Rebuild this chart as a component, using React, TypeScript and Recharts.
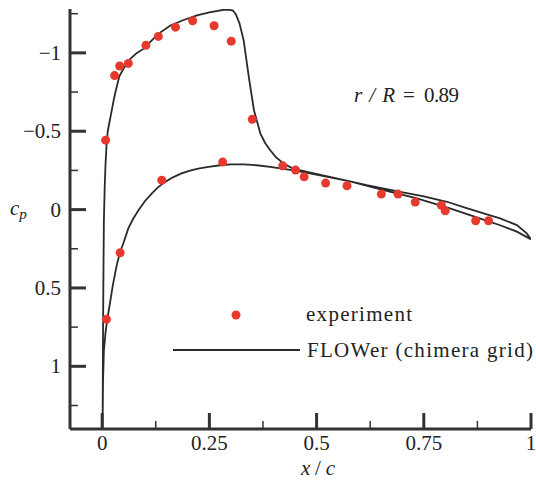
import React from 'react';
import { ComposedChart, Line, Scatter, XAxis, YAxis } from 'recharts';

// Experiment (x/c, cp)
const expX = [0.008, 0.029, 0.041, 0.061, 0.102, 0.131, 0.171, 0.211, 0.261, 0.301, 0.350, 0.421, 0.451, 0.471, 0.521, 0.571, 0.651, 0.690, 0.730, 0.791, 0.800, 0.871, 0.901, 0.139, 0.281, 0.042, 0.010];
const expCp = [-0.443, -0.855, -0.916, -0.933, -1.048, -1.105, -1.164, -1.205, -1.173, -1.075, -0.576, -0.279, -0.252, -0.209, -0.169, -0.152, -0.099, -0.099, -0.048, -0.027, 0.008, 0.071, 0.071, -0.188, -0.303, 0.275, 0.70];

// FLOWer: suction side from trailing edge to leading edge
const suctionX = [1.0, 0.990, 0.967, 0.928, 0.897, 0.850, 0.804, 0.750, 0.695, 0.617, 0.578, 0.520, 0.478, 0.445, 0.423, 0.405, 0.392, 0.380, 0.369, 0.354, 0.342, 0.330, 0.320, 0.312, 0.305, 0.295, 0.283, 0.250, 0.221, 0.190, 0.159, 0.130, 0.097, 0.081, 0.065, 0.050, 0.040, 0.031, 0.027, 0.020, 0.013, 0.010, 0.008, 0.006, 0.004, 0.003, 0.002, 0.001];
const suctionCp = [0.19, 0.152, 0.099, 0.056, 0.030, -0.010, -0.050, -0.085, -0.113, -0.156, -0.180, -0.215, -0.241, -0.262, -0.294, -0.335, -0.379, -0.425, -0.485, -0.634, -0.846, -1.080, -1.190, -1.245, -1.270, -1.276, -1.275, -1.258, -1.239, -1.210, -1.175, -1.120, -1.027, -1.000, -0.960, -0.900, -0.850, -0.750, -0.700, -0.600, -0.500, -0.400, -0.300, -0.150, 0.070, 0.400, 0.800, 1.400];

// FLOWer: pressure side from leading edge to trailing edge
const pressureX = [0.002, 0.004, 0.008, 0.012, 0.018, 0.025, 0.034, 0.042, 0.050, 0.061, 0.072, 0.085, 0.100, 0.116, 0.130, 0.147, 0.165, 0.185, 0.205, 0.224, 0.248, 0.275, 0.300, 0.330, 0.360, 0.392, 0.454, 0.520, 0.578, 0.656, 0.734, 0.811, 0.889, 0.928, 0.967, 1.0];
const pressureCp = [1.10, 0.90, 0.78, 0.70, 0.60, 0.48, 0.354, 0.269, 0.21, 0.12, 0.06, 0.003, -0.055, -0.103, -0.142, -0.177, -0.206, -0.231, -0.249, -0.262, -0.273, -0.283, -0.288, -0.288, -0.283, -0.273, -0.247, -0.212, -0.180, -0.124, -0.071, -0.008, 0.064, 0.100, 0.141, 0.19];

const xTicks = [0, 0.125, 0.25, 0.375, 0.5, 0.625, 0.75, 0.875, 1];
const xMajor = [0, 0.25, 0.5, 0.75, 1];
const xTickLabels = ['0', '0.25', '0.5', '0.75', '1'];
const yTicks = [-1.25, -1, -0.75, -0.5, -0.25, 0, 0.25, 0.5, 0.75, 1, 1.25];
const yMajor = [-1, -0.5, 0, 0.5, 1];
const yTickLabels = ['\u22121', '\u22120.5', '0', '0.5', '1'];

const SERIES_EXP = 'experiment';
const SERIES_CFD = 'FLOWer (chimera grid)';
const ANNOT_LHS = 'r/R';
const ANNOT_EQ = '=';
const ANNOT_VAL = '0.89';

const expData = expX.map((x, i) => ({ x, cp: expCp[i] }));
const cfdData = [
  ...suctionX.map((x, i) => ({ x, cp: suctionCp[i] })),
  ...pressureX.map((x, i) => ({ x, cp: pressureCp[i] })),
];

const FONT = "'Liberation Serif', 'DejaVu Serif', 'Noto Serif', serif";
const AX = '#333333';
const RED = '#e8392f';
const FS = 21;
const TS: React.CSSProperties = { fontFamily: FONT };

const XTick = (props: any) => {
  const { x, y, payload } = props;
  const v = payload.value;
  const idx = xMajor.indexOf(v);
  const major = idx >= 0;
  return (
    <g>
      <line x1={x} x2={x} y1={y} y2={y - (major ? 16 : 8)} stroke={AX} strokeWidth={major ? 3 : 1.5} />
      {major && (
        <text x={x} y={y + 21} textAnchor="middle" style={TS} fontSize={FS} fill="#222">
          {xTickLabels[idx]}
        </text>
      )}
    </g>
  );
};

const YTick = (props: any) => {
  const { x, y, payload } = props;
  const v = payload.value;
  const idx = yMajor.indexOf(v);
  const major = idx >= 0;
  return (
    <g>
      <line x1={x} x2={x + (major ? 16 : 8)} y1={y} y2={y} stroke={AX} strokeWidth={major ? 3 : 1.5} />
      {major && (
        <text x={x - 9} y={y + 7} textAnchor="end" style={TS} fontSize={FS} fill="#222">
          {yTickLabels[idx]}
        </text>
      )}
    </g>
  );
};

const Dot = (props: any) => {
  const { cx, cy } = props;
  return <circle cx={cx} cy={cy} r={4.5} fill={RED} />;
};

export default function App() {
  return (
    <div style={{ position: 'absolute', left: 0, top: 0, width: 536, height: 483, background: '#fff' }}>
      <ComposedChart width={536} height={483} margin={{ top: 9, right: 5, bottom: 0, left: 0 }}>
        <XAxis
          type="number"
          dataKey="x"
          domain={[-0.075, 1]}
          ticks={xTicks}
          interval={0}
          allowDataOverflow
          height={54}
          tickSize={0}
          tickMargin={0}
          tickLine={false}
          axisLine={{ stroke: AX, strokeWidth: 3 }}
          tick={(p: any) => <XTick {...p} />}
        />
        <YAxis
          type="number"
          dataKey="cp"
          domain={[-1.28, 1.4]}
          reversed
          ticks={yTicks}
          interval={0}
          allowDataOverflow
          width={70}
          tickSize={0}
          tickMargin={0}
          tickLine={false}
          axisLine={{ stroke: AX, strokeWidth: 3 }}
          tick={(p: any) => <YTick {...p} />}
        />
        <Line
          data={cfdData}
          dataKey="cp"
          name={SERIES_CFD}
          type="linear"
          stroke="#2a2a2a"
          strokeWidth={1.8}
          dot={false}
          activeDot={false}
          isAnimationActive={false}
        />
        <Scatter
          data={expData}
          dataKey="cp"
          name={SERIES_EXP}
          fill={RED}
          shape={(p: any) => <Dot {...p} />}
          isAnimationActive={false}
        />
      </ComposedChart>
      <svg
        width={536}
        height={483}
        style={{ position: 'absolute', left: 0, top: 0, pointerEvents: 'none' }}
      >
        <text x={10} y={215} style={TS} fontSize={FS} fill="#222">
          <tspan fontStyle="italic">c</tspan>
          <tspan fontStyle="italic" fontSize={15} dy={4}>p</tspan>
        </text>
        <text x={301} y={475} style={TS} fontSize={FS} fill="#222" textLength={34} lengthAdjust="spacing">
          <tspan fontStyle="italic">x</tspan>/<tspan fontStyle="italic">c</tspan>
        </text>
        <text x={354} y={102} style={TS} fontSize={FS} fill="#222" fontStyle="italic" textLength={41} lengthAdjust="spacing">
          {ANNOT_LHS}
        </text>
        <text x={403} y={102} style={TS} fontSize={FS} fill="#222">{ANNOT_EQ}</text>
        <text x={424} y={102} style={TS} fontSize={FS} fill="#222" textLength={35} lengthAdjust="spacing">{ANNOT_VAL}</text>
        <circle cx={236} cy={315} r={4.5} fill={RED} />
        <text x={306} y={321} style={TS} fontSize={FS} fill="#222" textLength={106} lengthAdjust="spacing">{SERIES_EXP}</text>
        <line x1={173} x2={300} y1={350} y2={350} stroke="#2a2a2a" strokeWidth={1.8} />
        <text x={307} y={357} style={TS} fontSize={FS} fill="#222" textLength={226} lengthAdjust="spacing">{SERIES_CFD}</text>
      </svg>
    </div>
  );
}
